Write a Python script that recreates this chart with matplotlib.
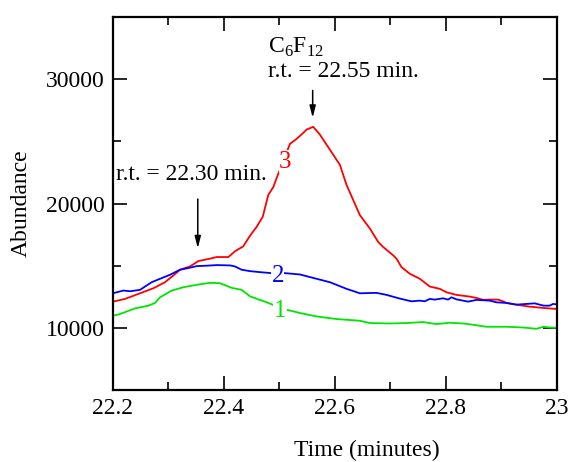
import numpy as np
import matplotlib
matplotlib.use("Agg")
from matplotlib import pyplot as plt

plt.rcParams['font.family'] = ['Liberation Serif', 'DejaVu Serif']
plt.rcParams['mathtext.fontset'] = 'custom'
plt.rcParams['mathtext.rm'] = 'Liberation Serif'

# trace 3 (red) - C6F12 peak
t3 = [22.200, 22.222, 22.249, 22.273, 22.294, 22.309, 22.321, 22.339, 22.354, 22.375,
      22.387, 22.408, 22.420, 22.435, 22.447, 22.459, 22.470, 22.480, 22.489, 22.495,
      22.519, 22.531, 22.543, 22.549, 22.561, 22.573, 22.591, 22.609, 22.621, 22.645,
      22.663, 22.678, 22.687, 22.705, 22.711, 22.720, 22.735, 22.753, 22.771, 22.789,
      22.801, 22.819, 22.843, 22.858, 22.867, 22.879, 22.894, 22.903, 22.909, 22.927,
      22.951, 22.976, 23.000]
a3 = [12105, 12324, 12777, 13182, 13668, 14211, 14672, 14939, 15368, 15563,
      15692, 15692, 16154, 16559, 17400, 18121, 18931, 20688, 21312, 22040,
      24794, 25198, 25684, 25951, 26170, 25547, 24332, 23117, 21498, 19069,
      17992, 16907, 16502, 15830, 15563, 14883, 14348, 13943, 13320, 13134,
      12858, 12648, 12510, 12372, 12243, 12267, 12267, 12130, 12000, 11862,
      11700, 11595, 11514]

# trace 2 (blue)
t2 = [22.200, 22.219, 22.231, 22.249, 22.258, 22.270, 22.285, 22.303, 22.321, 22.339,
      22.351, 22.369, 22.387, 22.411, 22.420, 22.432, 22.447, 22.465, 22.486, 22.510,
      22.537, 22.567, 22.591, 22.621, 22.645, 22.675, 22.693, 22.717, 22.738, 22.753,
      22.762, 22.771, 22.780, 22.795, 22.804, 22.810, 22.819, 22.840, 22.855, 22.879,
      22.891, 22.909, 22.927, 22.945, 22.960, 22.976, 22.987, 22.993, 23.000]
a2 = [12777, 12996, 12939, 13053, 13320, 13668, 13943, 14267, 14672, 14834,
      14964, 14996, 15045, 15020, 14939, 14672, 14559, 14478, 14397, 14397,
      14291, 13943, 13668, 13134, 12777, 12810, 12648, 12350, 12130, 12186,
      12130, 12324, 12267, 12372, 12267, 12453, 12291, 12105, 12243, 12186,
      12049, 12000, 11862, 11919, 11967, 11781, 11781, 11919, 11886]

# trace 1 (green)
t1 = [22.200, 22.213, 22.240, 22.264, 22.276, 22.285, 22.306, 22.327, 22.351, 22.375,
      22.393, 22.414, 22.432, 22.447, 22.465, 22.474, 22.489, 22.513, 22.537, 22.567,
      22.603, 22.645, 22.663, 22.699, 22.729, 22.759, 22.783, 22.807, 22.831, 22.849,
      22.873, 22.909, 22.939, 22.963, 22.976, 22.987, 23.000]
a1 = [10972, 11109, 11563, 11781, 12000, 12453, 12996, 13263, 13457, 13619,
      13587, 13214, 13053, 12534, 12243, 12105, 11838, 11457, 11190, 10915,
      10704, 10567, 10380, 10348, 10380, 10461, 10300, 10405, 10348, 10243,
      10081, 10081, 10024, 9919, 10081, 10024, 10000]

fig = plt.figure(figsize=(5.7, 4.62), dpi=100)
ax = fig.add_axes([0.198, 0.156, 0.779, 0.807])

ax.plot(t3, a3, color='#ff0000', lw=1.3)
ax.plot(t2, a2, color='#0000ff', lw=1.3)
ax.plot(t1, a1, color='#00e600', lw=1.3)

# curve numbers, white box cuts the line behind them
box = dict(facecolor='white', edgecolor='none', pad=0.3)
ax.text(22.511, 23350, '3', color='#ff0000', fontsize=18, ha='center', va='center', bbox=box)
ax.text(22.497, 14150, '2', color='#0000ff', fontsize=18, ha='center', va='center', bbox=box)
ax.text(22.501, 11330, '1', color='#00e600', fontsize=18, ha='center', va='center', bbox=box)

# peak annotations
arr = dict(arrowstyle='-|>,head_length=0.7,head_width=0.18', color='black', lw=1.1,
           shrinkA=0, shrinkB=0)
ax.annotate('', xy=(22.560, 26900), xytext=(22.560, 29100), arrowprops=arr)
ax.annotate('', xy=(22.353, 16400), xytext=(22.353, 20360), arrowprops=arr)
ax.text(22.479, 32600, 'C$_6$F$_{12}$', fontsize=17, ha='left', va='center')
ax.text(22.479, 30650, 'r.t. = 22.55 min.', fontsize=17, ha='left', va='center')
ax.text(22.205, 22300, 'r.t. = 22.30 min.', fontsize=17, ha='left', va='center')

ax.set_xlim(22.2, 23.0)
ax.set_ylim(5000, 35000)
ax.set_xticks(np.arange(22.2, 23.01, 0.2))
ax.set_xticklabels(['22.2', '22.4', '22.6', '22.8', '23'])
ax.set_xticks(np.arange(22.3, 23.0, 0.2), minor=True)
ax.set_yticks([10000, 20000, 30000])
ax.set_yticks([15000, 25000], minor=True)

ax.tick_params(which='both', direction='in', top=True, right=True, labelsize=17, width=1.2)
ax.tick_params(which='major', length=10, pad=6)
ax.tick_params(which='minor', length=6)
for s in ax.spines.values():
    s.set_linewidth(1.6)

# x label sits right of centre in the original
fig.text(367 / 570, 0.003, 'Time (minutes)', fontsize=17, ha='center', va='bottom')
ax.set_ylabel('Abundance', fontsize=17, labelpad=10)

fig.savefig('out.png', dpi=100)
